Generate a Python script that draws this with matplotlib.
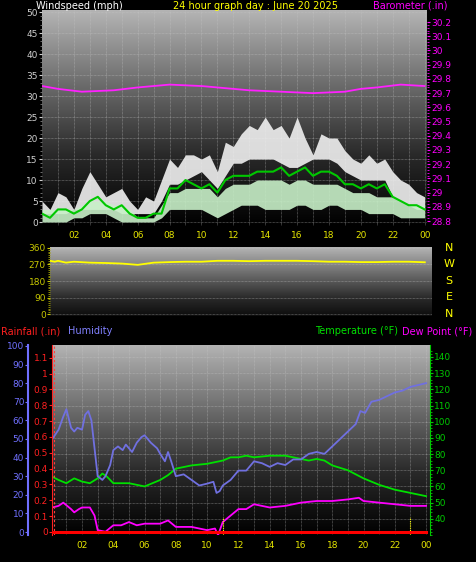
import numpy as np
import matplotlib
matplotlib.use("Agg")
import matplotlib.pyplot as plt
from matplotlib.colors import LinearSegmentedColormap

# ---------------- data ----------------
hh = [0, 0.5, 1, 1.5, 2, 2.5, 3, 3.5, 4, 4.5, 5, 5.5, 6, 6.5, 7, 7.5, 8, 8.5, 9, 9.5,
      10, 10.5, 11, 11.5, 12, 12.5, 13, 13.5, 14, 14.5, 15, 15.5, 16, 16.5, 17, 17.5,
      18, 18.5, 19, 19.5, 20, 20.5, 21, 21.5, 22, 22.5, 23, 23.5, 24]
wind_avg = [2, 1, 3, 3, 2, 3, 5, 6, 4, 3, 4, 2, 1, 1, 2, 2, 8, 8, 10, 9,
            8, 9, 7, 10, 11, 11, 11, 12, 12, 12, 13, 11, 12, 13, 11, 12,
            12, 11, 9, 9, 8, 9, 8, 9, 6, 5, 4, 4, 3]
gust_hi = [5, 3, 7, 6, 3, 8, 12, 9, 6, 7, 8, 5, 3, 6, 5, 10, 15, 13, 16, 16,
           15, 16, 12, 19, 18, 21, 23, 22, 25, 22, 23, 20, 25, 20, 16, 21,
           20, 20, 17, 15, 14, 16, 14, 15, 12, 10, 9, 7, 6]
gust_lo = [2, 2, 2, 2, 3, 3, 3, 3, 3, 3, 2, 2, 2, 2, 2, 5, 9, 9, 10, 11,
           12, 10, 8, 11, 14, 14, 15, 15, 15, 15, 14, 13, 13, 14, 15, 15,
           15, 14, 12, 11, 10, 10, 10, 10, 6, 5, 4, 3, 3]
speed_hi = [3, 3, 3, 3, 3, 4, 5, 5, 5, 4, 4, 3, 1, 1, 1, 4, 7, 7, 8, 8,
            8, 8, 6, 8, 9, 9, 9, 10, 10, 10, 10, 9, 10, 10, 9, 9,
            9, 9, 8, 7, 7, 7, 6, 6, 6, 5, 4, 4, 4]
speed_lo = [0, 0, 0, 0, 1, 1, 2, 2, 2, 1, 0, 0, 0, 0, 0, 1, 3, 3, 3, 3,
            3, 2, 1, 2, 3, 4, 4, 4, 3, 3, 3, 3, 4, 4, 3, 3,
            4, 4, 3, 3, 3, 2, 2, 2, 2, 1, 1, 1, 1]

baro_h = [0, 1, 2.5, 4.5, 6, 8, 10, 11, 12, 13, 15, 17, 19, 20, 21, 22.5, 24]
baro = [29.75, 29.73, 29.71, 29.72, 29.74, 29.76, 29.75, 29.74, 29.73, 29.72,
        29.71, 29.70, 29.71, 29.73, 29.74, 29.76, 29.75]

dir_h = [0.5, 0.8, 1, 1.5, 2, 3, 4, 5, 6, 7, 8, 9, 10, 11, 12, 13, 14, 15, 16,
         17, 18, 19, 20, 21, 22, 23, 24]
wind_dir = [290, 285, 290, 280, 285, 280, 278, 275, 268, 280, 283, 285, 285, 290,
            290, 288, 290, 290, 290, 288, 285, 285, 283, 283, 285, 285, 282]

hum_h = [0.1, 0.5, 0.8, 1.0, 1.3, 1.5, 1.7, 2.0, 2.2, 2.4, 2.6, 2.8, 3.0, 3.3, 3.5,
         3.8, 4.0, 4.3, 4.6, 4.8, 5.2, 5.5, 5.8, 6.0, 6.4, 6.8, 7.0, 7.3, 7.5, 7.7,
         8.0, 8.5, 9.0, 9.5, 10, 10.4, 10.6, 10.8, 11, 11.5, 12, 12.5, 13, 13.5, 14,
         14.5, 15, 15.5, 16, 16.5, 17, 17.5, 18, 18.5, 19, 19.5, 19.8, 20.1, 20.5,
         21, 21.5, 22, 22.5, 23, 23.5, 24]
humidity = [50, 55, 62, 66, 56, 54, 56, 55, 63, 65, 60, 45, 30, 28, 30,
            36, 44, 46, 44, 47, 43, 48, 51, 52, 48, 45, 42, 38, 43, 38,
            30, 31, 28, 25, 26, 27, 21, 22, 25, 28, 33, 33, 38, 37, 35,
            37, 36, 39, 39, 42, 43, 42, 46, 50, 54, 58, 65, 64, 70,
            71, 73, 75, 76, 78, 79, 80]

temp_h = [0.1, 0.5, 1, 1.5, 2, 2.5, 3, 3.3, 3.6, 4, 4.5, 5, 5.5, 6, 6.5, 7, 7.5, 8,
          8.5, 9, 10, 11, 11.5, 12, 12.5, 13, 14, 15, 16, 16.5, 17, 17.5, 18, 19,
          20, 21, 22, 23, 24]
temp = [66, 64, 62, 65, 63, 62, 65, 68, 66, 62, 62, 62, 61, 60, 62, 64, 67, 71,
        72, 73, 74, 76, 78, 78, 79, 78, 79, 79, 77, 76, 77, 76, 73, 70,
        65, 61, 58, 56, 54]

dew_h = [0.1, 0.5, 0.8, 1.3, 1.5, 1.8, 2.0, 2.5, 2.8, 3.0, 3.5, 4.0, 4.5, 5, 5.5,
         6, 7, 7.5, 8, 9, 9.5, 10, 10.5, 10.7, 11, 11.5, 12, 12.5, 13, 14, 15, 16,
         17, 18, 19, 19.7, 20, 21, 22, 23, 24]
dew = [47, 48, 50, 46, 44, 46, 47, 47, 42, 33, 32, 36, 36, 38, 36,
       37, 37, 39, 35, 35, 34, 33, 34, 30, 38, 42, 46, 46, 49, 47, 48, 50,
       51, 51, 52, 53, 51, 50, 49, 48, 48]

rain_h = [0, 24]
rain = [0, 0]
marker_hours = [11, 23]

hour_ticks = list(range(2, 25, 2))
hour_labels = ["%02d" % (h % 24) for h in hour_ticks]

# ---------------- figure ----------------
W, H = 477, 562
fig = plt.figure(figsize=(W / 100, H / 100), dpi=100, facecolor="black")
grad = LinearSegmentedColormap.from_list("g", ["#000000", "#2a2a2a", "#6e6e6e", "#b4b4b4"])


def px_axes(l, t, r, b):
    return fig.add_axes([l / W, 1 - b / H, (r - l) / W, (b - t) / H])


def background(ax, xlim, ylim, lo=0.0):
    g = np.linspace(lo, 1, 256).reshape(-1, 1)
    ax.imshow(g, cmap=grad, aspect="auto", origin="lower",
              extent=[xlim[0], xlim[1], ylim[0], ylim[1]], zorder=0, vmin=0, vmax=1)
    ax.set_xlim(xlim)
    ax.set_ylim(ylim)


def style(ax, col):
    ax.set_facecolor("black")
    for s in ax.spines.values():
        s.set_visible(False)
    ax.tick_params(colors=col, labelsize=6.5, length=2, pad=1)


FS = 7

# ---- top panel: wind + barometer ----
ax1 = px_axes(42, 10, 427, 226)
xl1 = (0, 24.15)
background(ax1, xl1, (-0.95, 50.5))
style(ax1, "#d0d0d0")
ax1.fill_between(hh, gust_lo, gust_hi, color="#f0f0f0", alpha=0.9, lw=0, zorder=2)
ax1.fill_between(hh, speed_lo, speed_hi, color="#c8f0c8", alpha=0.9, lw=0, zorder=3)
ax1.plot(hh, wind_avg, color="#00c800", lw=1.5, zorder=4)
ax1.set_yticks(range(0, 51, 5))
ax1.set_yticks(np.arange(0, 51, 1), minor=True)
ax1.tick_params(axis="y", which="minor", length=1.5, colors="#808080")
ax1.set_xticks(range(1, 25))
ax1.set_xticklabels([])
ax1.tick_params(axis="x", length=0)
ax1.grid(True, color="#c8c8c8", lw=0.5, ls=(0, (1, 1)), alpha=0.6)
ax1b = ax1.twinx()
style(ax1b, "#ff00ff")
ax1b.set_ylim(28.765, 30.285)
ax1b.plot(baro_h, baro, color="#ff20ff", lw=1.3, zorder=5)
bt = np.round(np.arange(28.8, 30.21, 0.1), 1)
ax1b.set_yticks(bt)
ax1b.set_yticklabels(["%g" % v for v in bt])
ax1b.set_yticks(np.arange(28.8, 30.21, 0.02), minor=True)
ax1b.tick_params(axis="y", which="minor", length=1.5, colors="#ff00ff")
for h, lab in zip(hour_ticks, hour_labels):
    fig.text((42 + h * 15.95) / W, 1 - 236 / H, lab, color="#e6e600", fontsize=6.5, ha="center", va="center")

fig.text(36 / W, 1 - 6 / H, "Windspeed (mph)", color="white", fontsize=FS, va="center")
fig.text(256 / W, 1 - 6 / H, "24 hour graph day : June 20 2025", color="#ffff00", fontsize=FS, ha="center", va="center")
fig.text(448 / W, 1 - 6 / H, "Barometer (.in)", color="#ff00ff", fontsize=FS, ha="right", va="center")

# ---- wind direction panel ----
ax2 = px_axes(50, 247, 432, 316)
background(ax2, (0.5, 24.45), (-10, 365), lo=0.1)
style(ax2, "#c8c800")
ax2.plot(dir_h, wind_dir, color="#ffff00", lw=1.3, zorder=3)
ax2.set_yticks([0, 90, 180, 270, 360])
ax2.set_yticks(range(0, 361, 10), minor=True)
ax2.tick_params(axis="y", which="minor", length=1.5, colors="#a0a000")
ax2.set_xticks([])
ax2.grid(True, axis="y", color="#c8c8c8", lw=0.5, ls=(0, (1, 1)), alpha=0.6)
for lab, yy in zip(["N", "W", "S", "E", "N"], [248, 264, 281, 297, 314]):
    fig.text(449 / W, 1 - yy / H, lab, color="#ffff00", fontsize=8, ha="center", va="center")

fig.text(1 / W, 1 - 331 / H, "Rainfall (.in)", color="#ff2020", fontsize=FS, va="center")
fig.text(68 / W, 1 - 331 / H, "Humidity", color="#8080ff", fontsize=FS, va="center")
fig.text(398 / W, 1 - 331 / H, "Temperature (°F)", color="#00e000", fontsize=FS, ha="right", va="center")
fig.text(472 / W, 1 - 331 / H, "Dew Point (°F)", color="#ff00ff", fontsize=FS, ha="right", va="center")

# ---- bottom panel ----
ax3 = px_axes(52, 345, 430, 535)
xl3 = (0.08, 24.25)
background(ax3, xl3, (30, 147.4))
style(ax3, "#00c800")
ax3.set_xticks(hour_ticks)
ax3.set_xticklabels(hour_labels, color="#e6e600")
ax3.set_xticks(range(1, 25), minor=True)
ax3.tick_params(axis="x", which="both", length=0, pad=4)
ax3.set_yticks(range(40, 141, 10))
ax3.set_yticks(range(30, 146, 2), minor=True)
ax3.grid(True, which="major", color="#c8c8c8", lw=0.5, ls=(0, (1, 1)), alpha=0.6)
ax3.grid(True, which="minor", axis="x", color="#c8c8c8", lw=0.5, ls=(0, (1, 1)), alpha=0.6)
ax3.plot(temp_h, temp, color="#00e000", lw=1.3, zorder=4)
ax3.plot(dew_h, dew, color="#ff00ff", lw=1.3, zorder=4)
for mh in marker_hours:
    ax3.plot([mh, mh], [30, 41], color="#ffff00", lw=0.8, ls=(0, (1, 1)), zorder=4)
ax3.plot([0.2, 0.2], [30, 147], color="#ff4040", lw=0.8, ls=(0, (2, 2)), zorder=4)

axh = ax3.twinx()
axh.set_ylim(-1.6, 100.5)
axh.plot(hum_h, humidity, color="#7070e0", lw=1.3, zorder=5)
axh.yaxis.tick_left()
axh.spines["left"].set_position(("outward", 17))
axh.spines["left"].set_visible(True)
axh.spines["left"].set_color("#7070ff")
axh.spines["left"].set_linewidth(1.5)
for s in ["right", "top", "bottom"]:
    axh.spines[s].set_visible(False)
axh.set_yticks(range(0, 101, 10))
axh.set_yticks(range(0, 101, 2), minor=True)
axh.tick_params(axis="y", colors="#7070ff", labelsize=6.5, length=2, pad=1)
axh.tick_params(axis="y", which="minor", length=1.5)

axr = ax3.twinx()
axr.set_ylim(-0.019, 1.18)
axr.plot(rain_h, rain, color="#ff0000", lw=2.2, zorder=6)
axr.yaxis.tick_left()
axr.spines["left"].set_visible(True)
axr.spines["left"].set_color("#ff2020")
for s in ["right", "top", "bottom"]:
    axr.spines[s].set_visible(False)
rt = np.round(np.arange(0, 1.11, 0.1), 1)
axr.set_yticks(rt)
axr.set_yticklabels(["%g" % v for v in rt])
axr.set_yticks(np.arange(0, 1.15, 0.02), minor=True)
axr.tick_params(axis="y", colors="#ff2020", labelsize=6.5, length=2, pad=1)
axr.tick_params(axis="y", which="minor", length=1.5)

# temperature scale on the right (set after twinx, which moves ticks left)
ax3.yaxis.tick_right()
ax3.tick_params(axis="y", which="both", colors="#00c800", labelsize=6.5, length=2, pad=1,
                left=False, labelleft=False, right=True, labelright=True)
ax3.tick_params(axis="y", which="minor", length=1.5)
ax3.spines["right"].set_visible(True)
ax3.spines["right"].set_color("#00c800")

fig.savefig("out.png", dpi=100, facecolor="black")
